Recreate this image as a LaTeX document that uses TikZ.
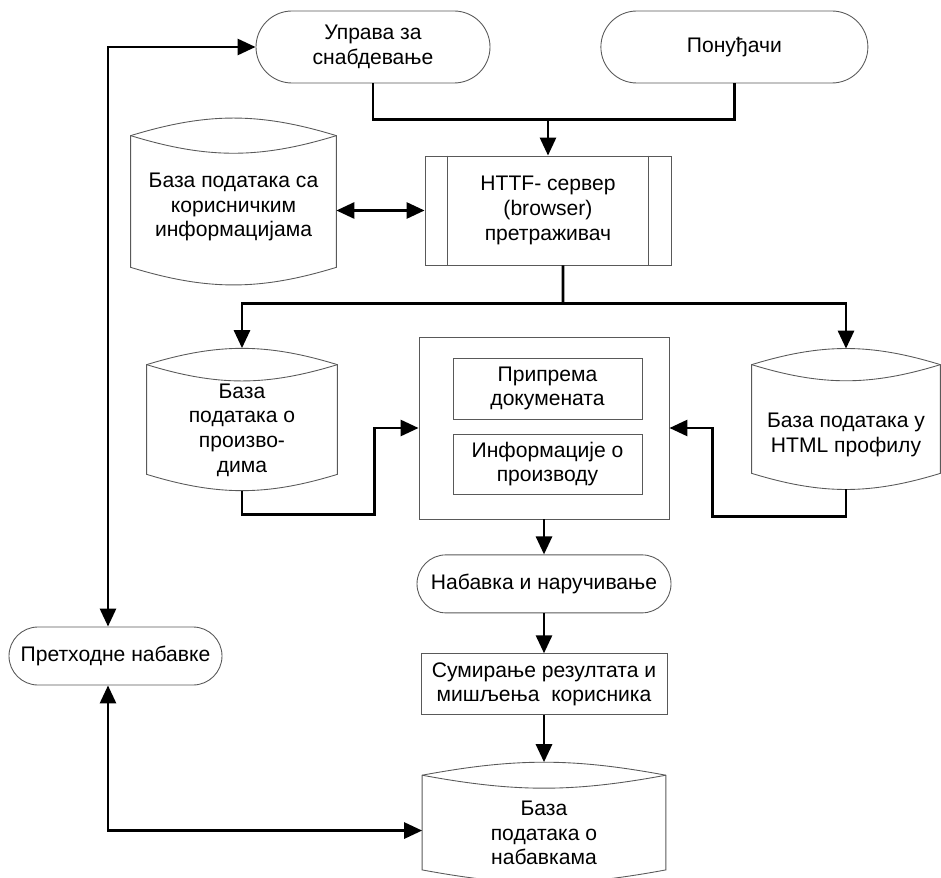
\documentclass[tikz,border=0pt]{standalone}
\usepackage{fontspec}
\setmainfont{Liberation Sans}
\usetikzlibrary{arrows.meta,positioning,calc}

% outline of a database node (curved top and bottom)
\newcommand{\dbshape}[2]{%
  \draw[outline] (#1.north west) to[bend left=#2] (#1.north east)
    -- (#1.south east) to[bend left=#2] (#1.south west) -- cycle;
  \draw[outline] (#1.north west) to[bend right=#2] (#1.north east);
}

\begin{document}
\begin{tikzpicture}[font=\fontsize{12}{14}\selectfont,
  >={Triangle[length=3.6mm, width=3.2mm]},
  outline/.style={draw=black!65, line width=0.5pt},
  box/.style={outline, align=center, inner sep=1pt},
  term/.style={box, rounded corners=#1},
  db/.style={inner sep=0pt},
  dbtext/.style={align=center},
  flow/.style={line width=1.6pt}]

  \useasboundingbox (0,0) rectangle (18.82,-17.56);

  \node[term=7.2mm, minimum width=4.68cm, minimum height=1.44cm] (uprava) at (7.46,-0.94) {Управа за\\снабдевање};
  \node[term=7.2mm, minimum width=5.34cm, minimum height=1.44cm, right=2.2cm of uprava] (ponudjaci) {Понуђачи};

  \node[box, minimum width=4.92cm, minimum height=2.18cm] (http) at (10.96,-4.21) {HTTF- сервер\\(browser)\\претраживач};
  \draw[outline] ([xshift=4.6mm]http.north west) -- ([xshift=4.6mm]http.south west)
    ([xshift=-4.6mm]http.north east) -- ([xshift=-4.6mm]http.south east);

  \node[db, minimum width=4.1cm, minimum height=2.62cm,
    label={[dbtext, yshift=-1.1mm]center:База података са\\корисничким\\информацијама}] (userdb) at (4.67,-4.03) {};
  \dbshape{userdb}{17}

  \node[db, minimum width=3.8cm, minimum height=2.18cm,
    label={[dbtext, yshift=-2.1mm]center:База\\података о\\произво-\\дима}] (proddb) at (4.84,-8.39) {};
  \dbshape{proddb}{17}

  \node[db, minimum width=3.76cm, minimum height=2.16cm,
    label={[dbtext, yshift=-3.2mm]center:База података у\\HTML профилу}] (htmldb) at (16.92,-8.38) {};
  \dbshape{htmldb}{17}

  % central block
  \node[box, minimum width=5cm, minimum height=3.64cm] (cont) at (10.88,-8.56) {};
  \node[box, minimum width=3.78cm, minimum height=1.22cm] (prep) at (10.95,-7.77) {Припрема\\докумената};
  \node[box, minimum width=3.78cm, minimum height=1.2cm] (info) at (10.95,-9.28) {Информације о\\производу};

  \node[term=5.8mm, minimum width=5.08cm, minimum height=1.16cm, below=0.7cm of cont] (nabavka) {Набавка и наручивање};
  \node[box, minimum width=4.92cm, minimum height=1.22cm, below=0.8cm of nabavka] (sum) {Сумирање резултата и\\мишљења\ \ корисника};
  \node[db, minimum width=4.86cm, minimum height=1.88cm, below=1.2cm of sum,
    label={[dbtext, yshift=-2.1mm]center:База\\података о\\набавкама}] (botdb) {};
  \dbshape{botdb}{10.5}

  \node[term=5.8mm, minimum width=4.26cm, minimum height=1.16cm] (prev) at (2.31,-13.12) {Претходне набавке};

  % connectors
  \coordinate (join) at ($(http.north)+(0,0.72)$);
  \draw[flow] (uprava.south) |- (join) -| (ponudjaci.south);
  \draw[flow,->] (join) -- (http.north);
  \draw[flow,<->] (userdb.east |- http.west) -- (http.west);

  \coordinate (split) at ($(http.south)+(0.3,-0.76)$);
  \draw[flow] ([xshift=3mm]http.south) -- (split);
  \draw[flow,->] (split) -| ([yshift=3.3mm]proddb.north);
  \draw[flow,->] (split) -| ([yshift=3.2mm]htmldb.north);

  \draw[flow,->] ([yshift=-3.3mm]proddb.south) -- ++(0,-0.48) -| ([xshift=-8.8mm]cont.west) -- (cont.west);
  \draw[flow,->] ([yshift=-3.2mm]htmldb.south) -- ++(0,-0.54) -| ([xshift=8.6mm]cont.east) -- (cont.east);

  \draw[flow,->] (cont.south) -- (nabavka.north);
  \draw[flow,->] (nabavka.south) -- (sum.north);
  \draw[flow,->] (sum.south) -- ([yshift=2.6mm]botdb.north);

  \draw[flow,<->] (uprava.west) -| ([xshift=-1.5mm]prev.north);
  \draw[flow,<->] ([xshift=-1.5mm]prev.south) |- ([yshift=-1.6mm]botdb.west);
\end{tikzpicture}
\end{document}
